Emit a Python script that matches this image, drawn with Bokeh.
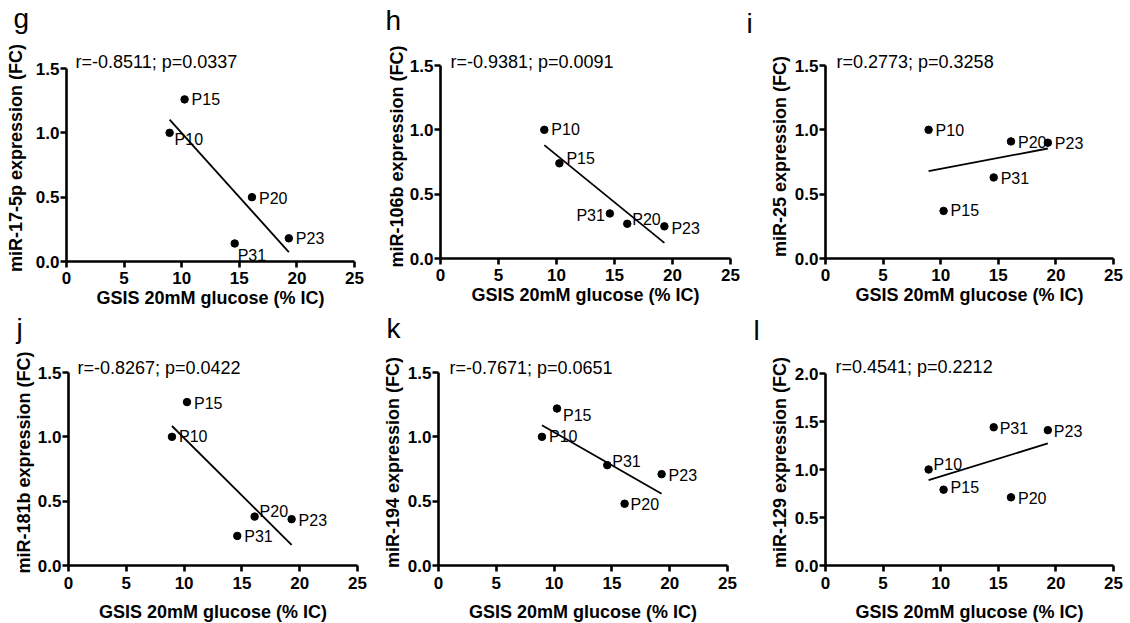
import numpy as np
from bokeh.plotting import figure
from bokeh.layouts import column, row
from bokeh.models import (ColumnDataSource, LabelSet, Label, FixedTicker,
                          NumeralTickFormatter, Range1d)
from bokeh.core.properties import value
from bokeh.embed import file_html
from bokeh.resources import INLINE

# ---------------- data ----------------
samples = ["P10", "P15", "P31", "P20", "P23"]
gsis = [8.95, 10.25, 14.6, 16.1, 19.3]          # GSIS 20mM glucose (% IC)

mir17_5p = [1.00, 1.26, 0.14, 0.50, 0.18]
mir106b = [1.00, 0.74, 0.35, 0.27, 0.25]
mir25 = [1.00, 0.37, 0.63, 0.91, 0.90]
mir181b = [1.00, 1.27, 0.23, 0.38, 0.36]
mir194 = [1.00, 1.22, 0.78, 0.48, 0.71]
mir129 = [1.00, 0.79, 1.44, 0.71, 1.41]

panel_letters = ["g", "h", "i", "j", "k", "l"]
y_titles = ["miR-17-5p expression (FC)", "miR-106b expression (FC)",
            "miR-25 expression (FC)", "miR-181b expression (FC)",
            "miR-194 expression (FC)", "miR-129 expression (FC)"]
stats = ["r=-0.8511; p=0.0337", "r=-0.9381; p=0.0091", "r=0.2773; p=0.3258",
         "r=-0.8267; p=0.0422", "r=-0.7671; p=0.0651", "r=0.4541; p=0.2212"]
series = [mir17_5p, mir106b, mir25, mir181b, mir194, mir129]
y_ticks = [[0, 0.5, 1.0, 1.5]] * 5 + [[0, 0.5, 1.0, 1.5, 2.0]]
x_ticks = [0, 5, 10, 15, 20, 25]
x_title = "GSIS 20mM glucose (% IC)"

# ---------------- layout / style (pixels) ----------------
PAGE_W = 1125
HEADER_H = [44, 34]
# (left, right, top, bottom border, frame width, data height, extra height above ymax)
geom = [
    (66, 22, 10, 50, 288, 193, 14),
    (64, 12, 10, 53, 290, 193, 11),
    (83, 12, 10, 53, 288, 193, 11),
    (68, 19, 14, 56, 289, 193, 13),
    (62, 15, 13, 57, 289, 193, 13),
    (83, 12, 12, 58, 288, 192, 14),
]
ylabel_standoff = [7, 0, 2, 1, 2, 2]
xtick_standoff = [4, 4, 4, 5, 5, 5]
xlabel_standoff = [1, 1, 1, 10, 10, 10]
# letter anchor (x from page left, top y from header top)
letter_pos = [(13, 2), (385, 4), (746, 7), (16, 1), (386, 1), (753, 3)]
stat_off = [(9, 7), (10, 4), (11, 4), (9, 5), (11, 5), (10, 7)]
# point label offsets (dx right, dy down) per panel, order = samples
pt_off = [
    [(5, 7), (7, 0), (3, 12), (7, 1), (7, 0)],
    [(7, 0), (7, -5), (-5, 2), (5, -4), (7, 2)],
    [(7, 1), (7, 0), (7, 1), (7, 1), (7, 1)],
    [(7, 0), (7, 1), (7, 1), (5, -5), (7, 1)],
    [(7, 0), (6, 7), (5, -4), (6, 1), (7, 1)],
    [(5, -5), (7, -2), (6, 1), (7, 1), (6, 1)],
]

FONT = "Liberation Sans"


def make_header(r):
    h = HEADER_H[r]
    p = figure(frame_width=PAGE_W, frame_height=h,
               min_border_left=0, min_border_right=0,
               min_border_top=0, min_border_bottom=0,
               x_range=Range1d(0, PAGE_W), y_range=Range1d(h, 0),
               x_axis_type=None, y_axis_type=None,
               output_backend="svg", toolbar_location=None,
               background_fill_color="white", border_fill_color="white")
    p.outline_line_color = None
    idx = range(3 * r, 3 * r + 3)
    p.text(x=[letter_pos[i][0] for i in idx], y=[letter_pos[i][1] for i in idx],
           text=[panel_letters[i] for i in idx],
           text_font=value(FONT), text_font_size="28px",
           text_color="black", text_align="left", text_baseline="top")
    return p


def make_panel(i):
    yv = series[i]
    ymax = y_ticks[i][-1]
    bl, br, bt, bb, fw, fh, ext = geom[i]
    ytop = ymax * (fh + ext) / fh
    p = figure(frame_width=fw, frame_height=fh + ext,
               min_border_left=bl, min_border_right=br,
               min_border_top=bt, min_border_bottom=bb,
               x_range=Range1d(0, 25), y_range=Range1d(0, ytop),
               output_backend="svg", toolbar_location=None,
               background_fill_color="white", border_fill_color="white")
    p.outline_line_color = None
    p.xgrid.visible = False
    p.ygrid.visible = False

    p.xaxis.ticker = FixedTicker(ticks=x_ticks)
    p.yaxis.ticker = FixedTicker(ticks=y_ticks[i])
    p.yaxis.formatter = NumeralTickFormatter(format="0.0")
    p.yaxis.bounds = (0, ymax)
    p.xaxis.axis_label = x_title
    p.yaxis.axis_label = y_titles[i]
    for ax in (p.xaxis[0], p.yaxis[0]):
        ax.axis_line_width = 2.6
        ax.axis_line_color = "black"
        ax.major_tick_line_width = 2.6
        ax.major_tick_line_color = "black"
        ax.major_tick_out = 6
        ax.major_tick_in = 0
        ax.minor_tick_out = 0
        ax.minor_tick_in = 0
        ax.major_label_text_font = FONT
        ax.major_label_text_font_size = "17px"
        ax.major_label_text_font_style = "bold"
        ax.major_label_text_color = "black"
        ax.axis_label_text_font = FONT
        ax.axis_label_text_font_size = "18px"
        ax.axis_label_text_font_style = "bold"
        ax.axis_label_text_color = "black"
    p.yaxis.major_label_standoff = 1
    p.xaxis.major_label_standoff = xtick_standoff[i]
    p.yaxis.axis_label_standoff = ylabel_standoff[i]
    p.xaxis.axis_label_standoff = xlabel_standoff[i]

    # regression line
    slope, icpt = np.polyfit(gsis, yv, 1)
    xs = [min(gsis), max(gsis)]
    p.line(xs, [slope * x + icpt for x in xs], line_color="black", line_width=1.8)

    # points
    p.scatter(gsis, yv, size=7.5, fill_color="black", line_color="black")

    # point labels
    left = dict(x=[], y=[], t=[], dx=[], dy=[])
    right = dict(x=[], y=[], t=[], dx=[], dy=[])
    for k, s in enumerate(samples):
        dx, dy = pt_off[i][k]
        d = right if dx < 0 else left
        d["x"].append(gsis[k]); d["y"].append(yv[k]); d["t"].append(s)
        d["dx"].append(dx); d["dy"].append(-dy)
    for d, al in ((left, "left"), (right, "right")):
        if d["x"]:
            p.add_layout(LabelSet(x="x", y="y", text="t", x_offset="dx", y_offset="dy",
                                  source=ColumnDataSource(d),
                                  text_font=value(FONT), text_font_size=value("16px"),
                                  text_color="black", text_align=al,
                                  text_baseline="middle"))

    # statistics text
    sx, sy = stat_off[i]
    p.add_layout(Label(x=0, y=ymax, x_offset=sx, y_offset=sy, text=stats[i],
                       text_font=FONT, text_font_size="18px", text_color="black",
                       text_baseline="middle", text_align="left"))
    return p


figs = [make_panel(i) for i in range(6)]
layout = column(make_header(0),
                row(*figs[:3], spacing=0),
                make_header(1),
                row(*figs[3:], spacing=0),
                spacing=0)

open("out.html", "w").write(file_html(layout, INLINE))
